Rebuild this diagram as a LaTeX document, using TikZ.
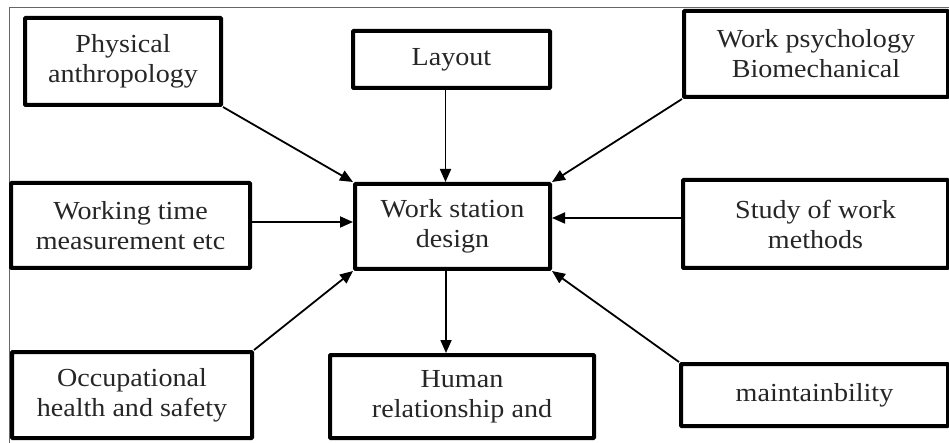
\documentclass[tikz,border=0pt]{standalone}
\usepackage{fontspec}
\setmainfont[FakeStretch=1.08]{Liberation Serif}
\usetikzlibrary{arrows.meta,calc}
\tikzset{
  box/.style={draw=black, line width=4pt, rounded corners=0.8pt, fill=white, align=center,
    text=black!85, inner sep=0pt, font=\fontsize{26}{30}\selectfont},
  arr/.style={draw=black, line width=1.8pt, -{Triangle[length=13pt,width=11pt]}},
  frame/.style={draw=black!60, line width=1pt}
}
\begin{document}
\begin{tikzpicture}[x=1pt,y=-1pt]
\useasboundingbox (0,0) rectangle (949,443);
\clip (0,0) rectangle (949,443);
\draw[frame] (9,460) -- (9,8) -- (960,8);
\node[box, minimum width=196, minimum height=87] (phys) at (123,61.5) {Physical\\anthropology};
\node[box, minimum width=197, minimum height=57] (lay) at (451.5,59.5) {Layout};
\node[box, minimum width=264, minimum height=86] (wpsy) at (816,54) {Work psychology\\Biomechanical};
\node[box, minimum width=239, minimum height=85] (wt) at (130.5,225.5) {Working time\\measurement etc};
\node[box, minimum width=195, minimum height=85] (wsd) at (452.5,226.5) {Work station\\design};
\node[box, minimum width=265, minimum height=88] (study) at (815.5,224) {Study of work\\methods};
\node[box, minimum width=240, minimum height=86] (occ) at (132,395) {Occupational\\health and safety};
\node[box, minimum width=264, minimum height=83] (hum) at (462,396.5) {Human\\relationship and};
\node[box, minimum width=267, minimum height=62] (maint) at (814.5,395) {maintainbility};
\draw[arr] (phys.south east) -- (wsd.north west);
\draw[arr] ([xshift=-6pt]lay.south) -- ([xshift=-6pt]lay.south |- wsd.north);
\draw[arr] (wpsy.south west) -- (wsd.north east);
\draw[arr] ([yshift=3.5pt]wt.east) -- ([yshift=3.5pt]wt.east -| wsd.west);
\draw[arr] ([yshift=6pt]study.west) -- ([yshift=6pt]study.west -| wsd.east);
\draw[arr] (occ.north east) -- (wsd.south west);
\draw[arr] ([xshift=-6.5pt]wsd.south) -- ([xshift=-6.5pt]wsd.south |- hum.north);
\draw[arr] (maint.north west) -- (wsd.south east);
\end{tikzpicture}
\end{document}
